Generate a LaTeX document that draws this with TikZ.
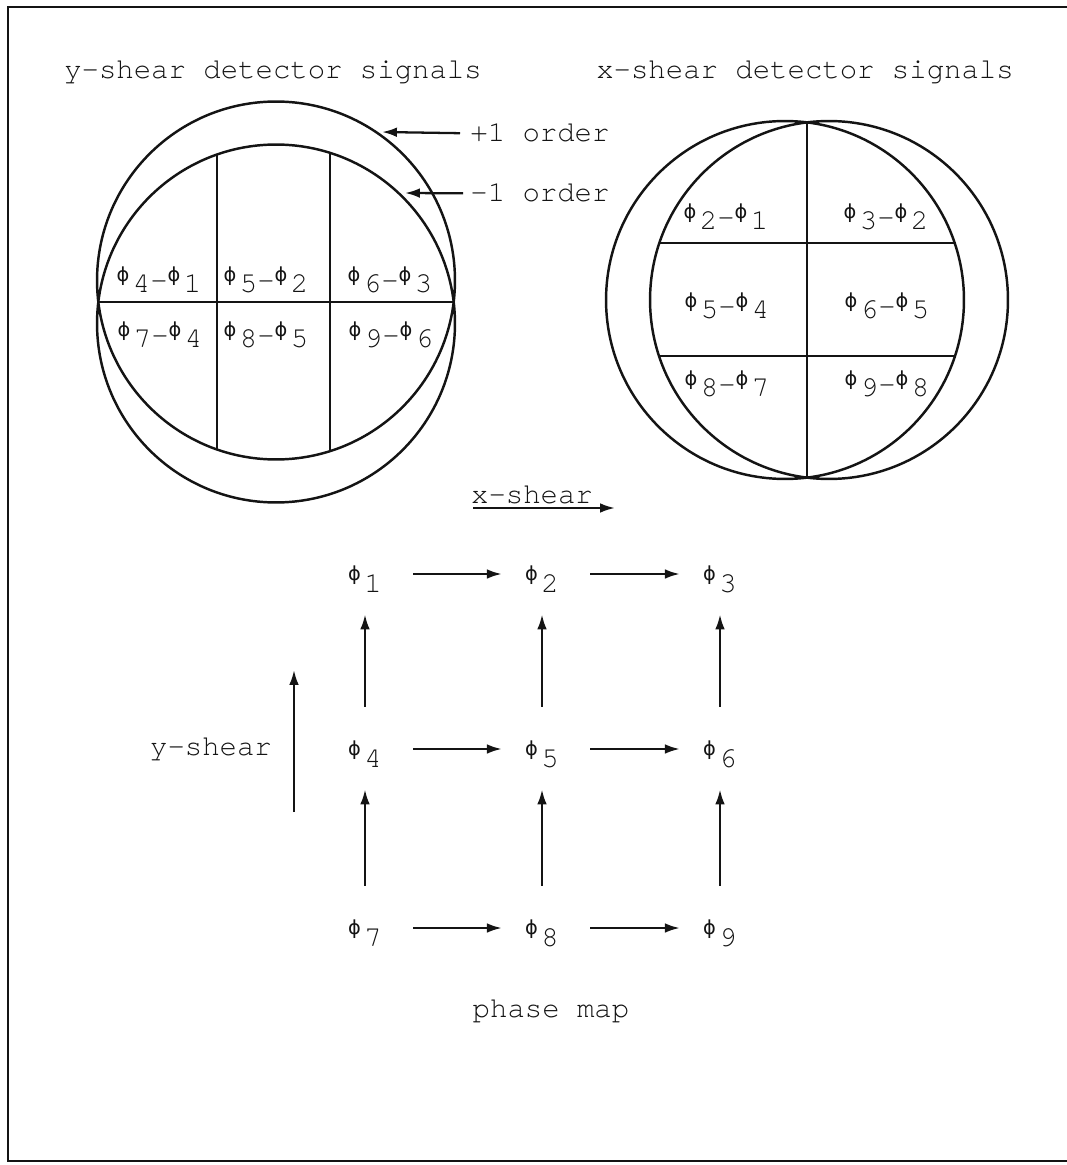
\documentclass[tikz,border=0pt]{standalone}
\usepackage{fontspec}
\newfontfamily\typewr{TeX Gyre Cursor}
\newfontfamily\greekph{DejaVu Sans}
\usepackage{tikz}
\usetikzlibrary{arrows.meta}
\definecolor{ink}{RGB}{20,20,20}
\newcommand{\ph}[1]{\raisebox{6.6pt}{\greekph\fontsize{11}{12}\selectfont ϕ}\kern.12em#1}
\newcommand{\phd}[2]{\ph{#1}\raisebox{.12em}{-}\ph{#2}}
\tikzset{
  typed/.style={font=\typewr\fontsize{16.5}{20}\selectfont,text=ink,inner sep=0pt},
  pupil/.style={line width=1.4pt,ink},
  split/.style={line width=1.3pt,ink},
  cell/.style={typed,anchor=base},
  mapnode/.style={typed,text height=20.6pt,text depth=0pt},
  shiftarrow/.style={line width=1.3pt,ink,-{Latex[length=8.5pt,width=5.5pt]}},
  harrow/.style={shiftarrow,shorten <=0.62cm,shorten >=0.46cm},
  varrow/.style={shiftarrow,shorten <=0.48cm,shorten >=0.44cm},
  frame/.style={line width=1.5pt,ink}
}

\begin{document}
\begin{tikzpicture}[x=0.02cm,y=-0.02cm]
  \useasboundingbox (0,0) rectangle (1067,1165);
  \draw[frame] (1067,7) -- (8,7) -- (8,1161) -- (1067,1161);

  % y-shear pupil: +1 and -1 order shifted up and down
  \coordinate (yup) at (276,280.5);
  \coordinate (ydn) at (276,323.5);
  \draw[pupil] (yup) circle (3.58cm) (ydn) circle (3.58cm);
  \begin{scope}
    \clip (yup) circle (3.58cm);
    \clip (ydn) circle (3.58cm);
    \draw[split] (217,100) -- (217,520) (330,100) -- (330,520);
  \end{scope}
  \draw[split] (98.3,302) -- (453.7,302);
  \node[typed,anchor=base] (ytitle) at (273,79) {y-shear detector signals};
  \foreach \n/\px/\py/\a/\b in {y1/159/293/4/1, y2/266/293/5/2, y3/390/293/6/3,
                              y4/160/348/7/4, y5/266/348/8/5, y6/391/348/9/6}
    \node[cell] (\n) at (\px,\py) {\phd{\a}{\b}};

  % x-shear pupil: shifted left and right
  \coordinate (xlf) at (785,300);
  \coordinate (xrt) at (829,300);
  \draw[pupil] (xlf) circle (3.58cm) (xrt) circle (3.58cm);
  \begin{scope}
    \clip (xlf) circle (3.58cm);
    \clip (xrt) circle (3.58cm);
    \draw[split] (600,243) -- (1015,243) (600,356) -- (1015,356);
  \end{scope}
  \draw[split] (807,122.4) -- (807,477.6);
  \node[typed,anchor=base] (xtitle) at (805,79) {x-shear detector signals};
  \foreach \n/\px/\py/\a/\b in {x1/726/230/2/1, x2/886/230/3/2,
                              x3/727/319/5/4, x4/887/319/6/5,
                              x5/727/397/8/7, x6/887/397/9/8}
    \node[cell] (\n) at (\px,\py) {\phd{\a}{\b}};

  % order labels
  \coordinate (plustip) at (382,132);
  \coordinate (minustip) at (405,193);
  \node[typed,anchor=base west] (plus) at (470,142) {+1 order};
  \node[typed,anchor=base west] (minus) at (470,202) {-1 order};
  \draw[shiftarrow,shorten <=0.2cm] (plus.west) -- (plustip);
  \draw[shiftarrow,shorten <=0.14cm] (minus.west) -- (minustip);

  % phase map
  \foreach \n/\px/\py in {1/365/574, 2/542/574, 3/720/574,
                          4/365/749, 5/542/749, 6/720/749,
                          7/365/928, 8/542/928, 9/720/928}
    \node[mapnode] (p\n) at (\px,\py) {\ph{\n}};
  \foreach \a/\b in {1/2,2/3,4/5,5/6,7/8,8/9}
    \draw[harrow] (p\a) -- (p\b);
  \foreach \a/\b in {4/1,5/2,6/3,7/4,8/5,9/6}
    \draw[varrow] (p\a) -- (p\b);

  \node[typed,anchor=base] (xshear) at (532,503) {x-shear};
  \coordinate (xsa) at (473,508);
  \coordinate (xsb) at (615,508);
  \draw[shiftarrow] (xsa) -- (xsb);
  \node[typed,anchor=base] (yshear) at (211,755) {y-shear};
  \coordinate (ysa) at (294,812);
  \coordinate (ysb) at (294,670);
  \draw[shiftarrow] (ysa) -- (ysb);
  \node[typed,anchor=base] (caption) at (551,1017) {phase map};
\end{tikzpicture}
\end{document}
